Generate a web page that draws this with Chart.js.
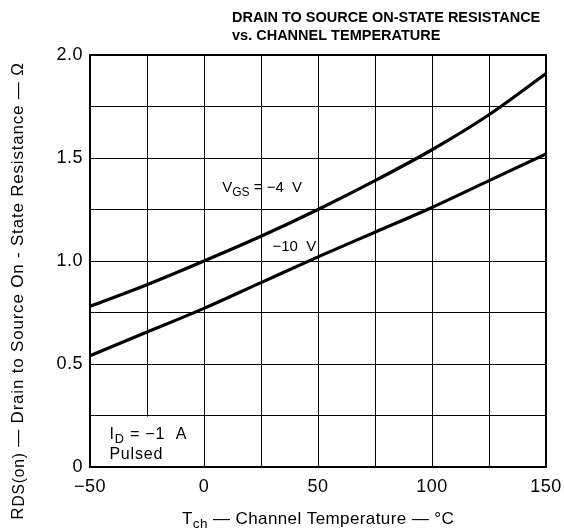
<!DOCTYPE html>
<html>
<head>
<meta charset="utf-8">
<script src="https://cdn.jsdelivr.net/npm/chart.js@4"></script>
<style>
  html, body { margin: 0; padding: 0; background: #fff; }
  #wrap { width: 564px; height: 531px; }
</style>
</head>
<body>
<div id="wrap"><canvas id="rdsChart" width="564" height="531"></canvas></div>
<script>
// channel temperature, degC
const temps = [-50, -25, 0, 25, 50, 75, 100, 125, 150];
// RDS(on) in ohms
const vgs4 = [0.78, 0.885, 1.0, 1.12, 1.25, 1.39, 1.54, 1.71, 1.91];
const vgs10 = [0.54, 0.655, 0.77, 0.895, 1.02, 1.14, 1.26, 1.39, 1.52];
const xTickLabels = ['\u221250', '0', '50', '100', '150'];
const yTickLabels = ['0', '0.5', '1.0', '1.5', '2.0'];

const FONT = '"Liberation Sans", Arial, sans-serif';

function toPoints(ys) {
    return temps.map((t, i) => ({ x: t, y: ys[i] }));
}

// draw a string made of pieces, some of them subscript
function drawParts(ctx, parts, x, y, size) {
    let cx = x;
    parts.forEach(p => {
        const s = p.sub ? size * (p.scale || 0.8) : size;
        ctx.font = s + 'px ' + FONT;
        ctx.fillText(p.t, cx, p.sub ? y + size * (p.drop !== undefined ? p.drop : 0.25) : y);
        cx += ctx.measureText(p.t).width;
    });
    return cx - x;
}
function partsWidth(ctx, parts, size) {
    let w = 0;
    parts.forEach(p => {
        ctx.font = (p.sub ? size * (p.scale || 0.8) : size) + 'px ' + FONT;
        w += ctx.measureText(p.t).width;
    });
    return w;
}

const decor = {
    id: 'decor',
    beforeDraw(chart) {
        chart.ctx.letterSpacing = '0.5px';
    },
    beforeDatasetsDraw(chart) {
        const { ctx, chartArea: a, scales: { x, y } } = chart;
        ctx.save();
        // the ID / Pulsed box has no -25 grid line
        ctx.fillStyle = '#fff';
        const gx = x.getPixelForValue(-25);
        ctx.fillRect(gx - 2, y.getPixelForValue(0.25) + 1, 4, y.getPixelForValue(0) - y.getPixelForValue(0.25) - 2);
        ctx.strokeStyle = '#000';
        ctx.lineWidth = 2;
        ctx.strokeRect(a.left, a.top, a.right - a.left, a.bottom - a.top);
        ctx.restore();
    },
    afterDraw(chart) {
        const { ctx, chartArea: a, scales: { x, y } } = chart;
        ctx.save();
        ctx.fillStyle = '#000';
        ctx.textBaseline = 'alphabetic';
        ctx.textAlign = 'left';

        // title
        ctx.letterSpacing = '0px';
        ctx.font = 'bold 14.5px ' + FONT;
        ctx.fillText('DRAIN TO SOURCE ON-STATE RESISTANCE', 232, 22);
        ctx.fillText('vs. CHANNEL TEMPERATURE', 232, 40);

        // curve labels
        drawParts(ctx, [{ t: 'V' }, { t: 'GS', sub: true }, { t: ' = \u22124  V' }],
            x.getPixelForValue(8), y.getPixelForValue(1.335), 15);
        drawParts(ctx, [{ t: '\u221210  V' }], x.getPixelForValue(30), y.getPixelForValue(1.05), 15);
        ctx.letterSpacing = '0.8px';
        drawParts(ctx, [{ t: 'I' }, { t: 'D', sub: true }, { t: ' = \u22121  A' }],
            x.getPixelForValue(-41.5), y.getPixelForValue(0.135), 16);
        drawParts(ctx, [{ t: 'Pulsed' }], x.getPixelForValue(-41.5), y.getPixelForValue(0.04), 16);

        // x axis title
        ctx.letterSpacing = '0.4px';
        const xt = [{ t: 'T' }, { t: 'ch', sub: true }, { t: ' \u2014 Channel Temperature \u2014 \u00b0C' }];
        const xw = partsWidth(ctx, xt, 17);
        drawParts(ctx, xt, 318 - xw / 2, 524, 17);

        // y axis title
        ctx.letterSpacing = '0.8px';
        const yt = [{ t: 'R' }, { t: 'DS(on)', sub: true, scale: 0.92, drop: 0.08 }, { t: ' \u2014 Drain to Source On - State Resistance \u2014 \u03a9' }];
        const yw = partsWidth(ctx, yt, 17);
        ctx.translate(23, 291);
        ctx.rotate(-Math.PI / 2);
        drawParts(ctx, yt, -yw / 2, 0, 17);
        ctx.restore();
    }
};

const ctx = document.getElementById('rdsChart').getContext('2d');
const rdsChart = new Chart(ctx, {
    type: 'line',
    data: {
        datasets: [
            { label: 'VGS = -4 V', data: toPoints(vgs4) },
            { label: 'VGS = -10 V', data: toPoints(vgs10) }
        ]
    },
    options: {
        responsive: false,
        animation: false,
        layout: { padding: { left: 0, top: 55, right: 18, bottom: 0 } },
        elements: {
            line: { borderColor: '#000', borderWidth: 3.2, tension: 0.4, cubicInterpolationMode: 'monotone' },
            point: { radius: 0 }
        },
        plugins: { legend: { display: false }, tooltip: { enabled: false } },
        scales: {
            x: {
                type: 'linear', min: -50, max: 150,
                afterFit: s => { s.height = 64; s.paddingLeft = 0; s.paddingRight = 0; },
                grid: { color: '#000', lineWidth: 1, drawTicks: false },
                border: { color: '#000', width: 2 },
                ticks: {
                    stepSize: 25, padding: 9, color: '#000',
                    font: { family: FONT, size: 18 },
                    callback: v => (v % 50 === 0 ? xTickLabels[(v + 50) / 50] : '')
                }
            },
            y: {
                min: 0, max: 2,
                afterFit: s => { s.width = 90; s.paddingTop = 0; s.paddingBottom = 0; },
                grid: { color: '#000', lineWidth: 1, drawTicks: false },
                border: { color: '#000', width: 2 },
                ticks: {
                    stepSize: 0.25, padding: 7, color: '#000',
                    font: { family: FONT, size: 18 },
                    callback: v => (Math.abs(v * 2 - Math.round(v * 2)) < 1e-6 ? yTickLabels[Math.round(v * 2)] : '')
                }
            }
        }
    },
    plugins: [decor]
});
</script>
</body>
</html>
